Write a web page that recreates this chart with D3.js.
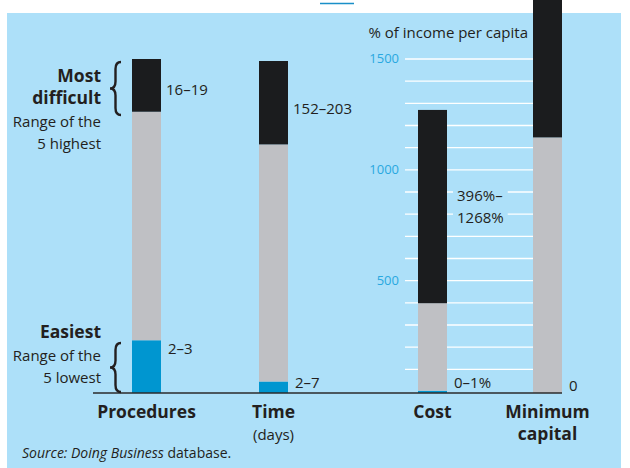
<!DOCTYPE html>
<html>
<head>
<meta charset="utf-8">
<script src="https://cdn.jsdelivr.net/npm/d3@7"></script>
<style>
  body { margin: 0; background: #fff; }
  text { font-family: "Open Sans", sans-serif; fill: #231f20; }
</style>
</head>
<body>
<div id="chart"></div>
<script>
// Chart data
var categories = ["Procedures", "Time", "Cost", "Minimum capital"];
var lowMin = [2, 2, 0, 0];
var lowMax = [3, 7, 1, 0];
var highMin = [16, 152, 396, 1144];
var highMax = [19, 203, 1268, 2400];
var highLabels = ["16–19", "152–203", "396%–\n1268%", ""];
var lowLabels = ["2–3", "2–7", "0–1%", "0"];
var categoryLines = [["Procedures"], ["Time", "(days)"], ["Cost"], ["Minimum", "capital"]];
var moneyTicks = d3.range(100, 1501, 100);
var moneyLabelTicks = [500, 1000, 1500];

// colours
var bgBlue = "#ade0f9";
var barBlack = "#1b1c1e";
var barGray = "#bfc0c4";
var barBlue = "#0096d0";
var tickBlue = "#29a8e0";

var svgWidth = 630;
var svgHeight = 468;
var baseY = 393;
var barWidth = 29;
var regSize = "15px";
var boldSize = "17.5px";

var svg = d3.select("#chart")
  .append("svg")
  .attr("width", svgWidth)
  .attr("height", svgHeight);

// light blue panel
svg.append("rect")
  .attr("x", 7)
  .attr("y", 13)
  .attr("width", 614)
  .attr("height", svgHeight - 13)
  .attr("fill", bgBlue);

// small rule at the top
svg.append("line")
  .attr("x1", 320).attr("x2", 354)
  .attr("y1", 3.5).attr("y2", 3.5)
  .attr("stroke", "#1a8fc8")
  .attr("stroke-width", 1.5);

// x positions of the bars
var xScale = d3.scaleOrdinal()
  .domain(categories)
  .range([132, 259, 418, 533]);

// each measure has its own vertical scale
var yProc = d3.scaleLinear().domain([0, 19]).range([baseY, 59]);
var yTime = d3.scaleLinear().domain([0, 203]).range([baseY, 61]);
var yMoney = d3.scaleLinear().domain([0, 1500]).range([391, 58.5]);
var yScales = [yProc, yTime, yMoney, yMoney];

// gridlines + tick labels for the money axis
var moneyAxis = d3.axisLeft(yMoney)
  .tickValues(moneyTicks)
  .tickSize(-(xScale("Minimum capital") - 405))
  .tickPadding(6)
  .tickFormat(d => moneyLabelTicks.indexOf(d) >= 0 ? d : "");

var gridGroup = svg.append("g")
  .attr("transform", "translate(405,0)")
  .call(moneyAxis);

gridGroup.select(".domain").remove();
gridGroup.selectAll("line")
  .attr("stroke", "#fff")
  .attr("stroke-width", 1.3);
gridGroup.selectAll("text")
  .style("font-family", "'Open Sans', sans-serif")
  .style("font-size", "13px")
  .style("fill", tickBlue);

svg.append("text")
  .attr("x", 528)
  .attr("y", 38)
  .attr("text-anchor", "end")
  .style("font-size", regSize)
  .text("% of income per capita");

// build the stacked segments
var segments = [];
categories.forEach(function(c, i) {
  segments.push({ cat: c, i: i, v0: 0, v1: lowMax[i], color: barBlue, minH: 2 });
  segments.push({ cat: c, i: i, v0: lowMax[i], v1: highMin[i], color: barGray, minH: 0 });
  segments.push({ cat: c, i: i, v0: highMin[i], v1: highMax[i], color: barBlack, minH: 0 });
});

function segBottom(d) {
  return d.v0 === 0 ? baseY : yScales[d.i](d.v0);
}
function segTop(d) {
  var top = yScales[d.i](d.v1);
  return Math.min(top, segBottom(d) - d.minH);
}

svg.selectAll(".seg")
  .data(segments)
  .enter()
  .append("rect")
  .attr("class", "seg")
  .attr("x", d => xScale(d.cat))
  .attr("width", barWidth)
  .attr("y", d => segTop(d))
  .attr("height", d => segBottom(d) - segTop(d))
  .attr("fill", d => d.color);

// baseline
svg.append("line")
  .attr("x1", 93)
  .attr("x2", xScale("Minimum capital") + barWidth)
  .attr("y1", baseY)
  .attr("y2", baseY)
  .attr("stroke", "#2b2b2b")
  .attr("stroke-width", 1.5);

// high range labels
categories.forEach(function(c, i) {
  if (!highLabels[i]) return;
  var y = yScales[i];
  var lines = highLabels[i].split("\n");
  var share = lines.length > 1 ? 0.5 : 0.42;
  var cy = y(highMin[i] + (highMax[i] - highMin[i]) * share);
  var x = xScale(c) + barWidth + (lines.length > 1 ? 10 : 5);
  var g = svg.append("g");
  var bgRect = g.append("rect").attr("fill", bgBlue);
  var t = g.append("text")
    .attr("x", x)
    .attr("y", cy - (lines.length - 1) * 11 + 5)
    .style("font-size", regSize);
  lines.forEach(function(l, k) {
    t.append("tspan")
      .attr("x", x)
      .attr("dy", k === 0 ? 0 : 22)
      .text(l);
  });
  var bb = t.node().getBBox();
  bgRect.attr("x", bb.x - 4).attr("y", bb.y - 1)
    .attr("width", bb.width + 8).attr("height", bb.height + 2);
});

// low range labels
categories.forEach(function(c, i) {
  var y = yScales[i];
  svg.append("text")
    .attr("x", xScale(c) + barWidth + 7)
    .attr("y", Math.min(y((lowMin[i] + lowMax[i]) / 2) + 5, 388 + (lowMax[i] === 0 ? 3 : 0)))
    .style("font-size", regSize)
    .text(lowLabels[i]);
});

// category labels under the axis
categories.forEach(function(c, i) {
  categoryLines[i].forEach(function(l, k) {
    var regular = l.charAt(0) === "(";
    svg.append("text")
      .attr("x", xScale(c) + barWidth / 2)
      .attr("y", 418 + k * 22)
      .attr("text-anchor", "middle")
      .style("font-size", regular ? regSize : boldSize)
      .style("font-weight", regular ? 400 : 700)
      .text(l);
  });
});

// curly brace path, tip on the left
function bracePath(x0, x1, y0, y1) {
  var xm = (x0 + x1) / 2;
  var ym = (y0 + y1) / 2;
  var q = 7;
  return "M" + x1 + "," + y0 +
    " Q" + xm + "," + y0 + " " + xm + "," + (y0 + q) +
    " L" + xm + "," + (ym - q) +
    " Q" + xm + "," + ym + " " + x0 + "," + ym +
    " Q" + xm + "," + ym + " " + xm + "," + (ym + q) +
    " L" + xm + "," + (y1 - q) +
    " Q" + xm + "," + y1 + " " + x1 + "," + y1;
}

var notes = [
  { lines: [["Most", 82, true], ["difficult", 104, true], ["Range of the", 127, false], ["5 highest", 149, false]], brace: [62, 115] },
  { lines: [["Easiest", 338, true], ["Range of the", 361, false], ["5 lowest", 383, false]], brace: [343, 392] }
];

notes.forEach(function(n) {
  n.lines.forEach(function(l) {
    svg.append("text")
      .attr("x", 101)
      .attr("y", l[1])
      .attr("text-anchor", "end")
      .style("font-size", l[2] ? boldSize : regSize)
      .style("font-weight", l[2] ? 700 : 400)
      .text(l[0]);
  });
  svg.append("path")
    .attr("d", bracePath(110, 121, n.brace[0], n.brace[1]))
    .attr("fill", "none")
    .attr("stroke", "#231f20")
    .attr("stroke-width", 2.4);
});

// source note
var source = svg.append("text")
  .attr("x", 22)
  .attr("y", 458)
  .style("font-size", "14px");
source.append("tspan").style("font-style", "italic").text("Source: Doing Business");
source.append("tspan").text(" database.");
</script>
</body>
</html>
